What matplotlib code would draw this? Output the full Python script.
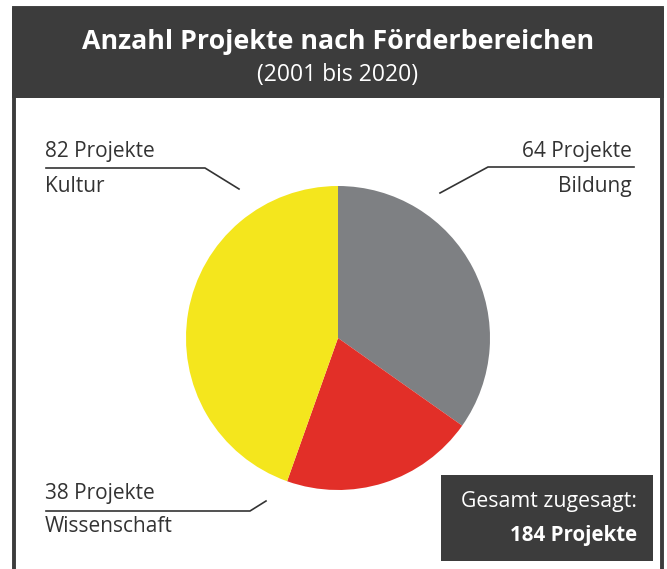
import matplotlib
matplotlib.use("Agg")
import matplotlib.pyplot as plt
from matplotlib.patches import Rectangle

# data
categories = ["Bildung", "Wissenschaft", "Kultur"]
counts = [64, 38, 82]
total = sum(counts)
colors = ["#7e8083", "#e22f28", "#f4e61d"]

TITLE = "Anzahl Projekte nach Förderbereichen"
SUBTITLE = "(2001 bis 2020)"

W, H = 667, 569
DARK = "#3c3c3c"
TXT = "#333333"
plt.rcParams["font.family"] = ["Open Sans", "DejaVu Sans"]

fig = plt.figure(figsize=(W / 100, H / 100), dpi=100)
ax = fig.add_axes([0, 0, 1, 1])


def y(v):  # image row -> axes y
    return H - v


# pie
ax.pie(counts, colors=colors, startangle=90, counterclock=False,
       center=(338, y(338)), radius=152, wedgeprops=dict(linewidth=0),
       frame=True)
ax.set_xlim(0, W)
ax.set_ylim(0, H)
ax.set_aspect("equal")
ax.axis("off")

# frame + header
ax.add_patch(Rectangle((13.5, y(575)), 648, 575 - 8, facecolor="none",
                       edgecolor=DARK, lw=2.8, zorder=0))
ax.add_patch(Rectangle((12, y(98)), 652, 90, facecolor=DARK, edgecolor="none", zorder=1))
ax.text(338, y(42), TITLE, color="white", fontsize=19.3, fontweight="bold",
        ha="center", va="center", zorder=2)
ax.text(338, y(75), SUBTITLE, color="white", fontsize=16.5, ha="center", va="center", zorder=2)

# labels with leader lines
lw = 1.2
lab = dict(fontsize=15, color=TXT)
# Kultur
ax.text(45, y(151), f"{counts[2]} Projekte", ha="left", va="center", **lab)
ax.text(45, y(186), categories[2], ha="left", va="center", **lab)
ax.plot([46, 205, 239], [y(168), y(168), y(189)], color=TXT, lw=lw)
# Bildung
ax.text(632, y(151), f"{counts[0]} Projekte", ha="right", va="center", **lab)
ax.text(632, y(186), categories[0], ha="right", va="center", **lab)
ax.plot([634, 488, 440], [y(167), y(167), y(193)], color=TXT, lw=lw)
# Wissenschaft
ax.text(45, y(494), f"{counts[1]} Projekte", ha="left", va="center", **lab)
ax.text(45, y(527), categories[1], ha="left", va="center", **lab)
ax.plot([46, 250, 266], [y(511), y(511), y(501)], color=TXT, lw=lw)

# total box
ax.add_patch(Rectangle((441, y(561)), 212, 86, facecolor=DARK, edgecolor="none"))
ax.text(637, y(502), "Gesamt zugesagt:", color="white", fontsize=15.3,
        ha="right", va="center")
ax.text(637, y(535), f"{total} Projekte", color="white", fontsize=14.8,
        fontweight="bold", ha="right", va="center")

fig.savefig("out.png", dpi=100)
